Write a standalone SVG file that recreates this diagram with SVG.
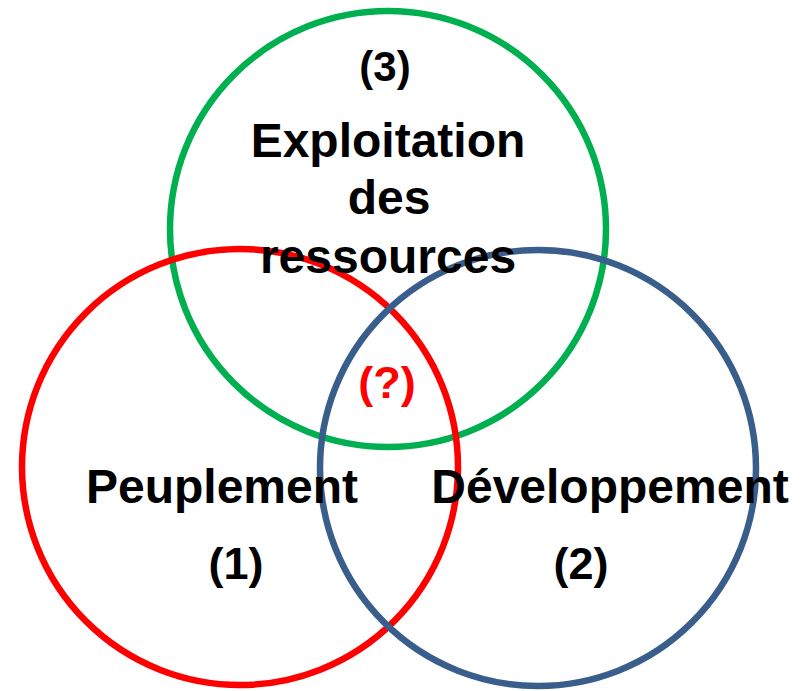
<svg xmlns="http://www.w3.org/2000/svg" width="804" height="691" viewBox="0 0 804 691">
<style>
.c{fill:none;stroke-width:6.5}
.t{font-family:"Liberation Sans",Arial,sans-serif;font-weight:bold;font-size:48px;fill:#000;text-anchor:middle}
.n{font-size:45px}
</style>
<rect width="804" height="691" fill="#fff"/>
<g id="circle-green"><circle class="c" cx="388" cy="229" r="218" stroke="#00B050"/></g>
<g id="circle-red"><circle class="c" cx="240" cy="467" r="218" stroke="#FF0000"/></g>
<g id="circle-blue"><circle class="c" cx="538" cy="468" r="218" stroke="#3A5E8C"/></g>
<g id="label-3">
<text class="t" x="385" y="81" style="font-size:42px">(3)</text>
<text class="t" x="388" y="157">Exploitation</text>
<text class="t" x="389" y="214">des</text>
<text class="t" x="388" y="273">ressources</text>
</g>
<g id="label-1">
<text class="t" x="222" y="503">Peuplement</text>
<text class="t n" x="236" y="579">(1)</text>
</g>
<g id="label-2">
<text class="t" x="610" y="503">Développement</text>
<text class="t n" x="581" y="579">(2)</text>
</g>
<g id="label-q"><text class="t n" x="387" y="398" style="fill:#FF0000">(?)</text></g>
</svg>
